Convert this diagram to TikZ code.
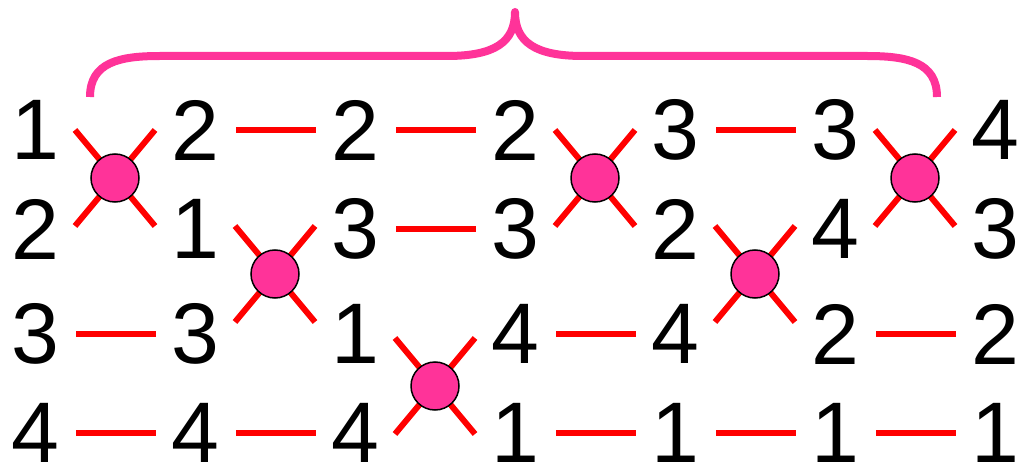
\documentclass[tikz,border=0pt]{standalone}
\usepackage{fontspec}
\setmainfont{Liberation Sans}
\usepackage{xcolor}
\usetikzlibrary{calc}
\definecolor{wirered}{HTML}{FF0000}
\definecolor{hotpink}{HTML}{FF3399}

\begin{document}
\begin{tikzpicture}[x=1pt,y=-1pt,
  num/.style={inner sep=0pt,font=\fontsize{86}{86}\selectfont},
  wire/.style={draw=wirered,line width=6pt},
  link/.style={wire,shorten <=41pt,shorten >=39pt},
  swap/.style={circle,draw=black,line width=1.5pt,fill=hotpink,
               minimum size=48pt,inner sep=0pt},
  brace/.style={draw=hotpink,line width=8pt,line join=round}
]
\useasboundingbox (0,0) rectangle (1028,473);
% columns of numbers
\foreach \c/\a/\b/\d/\e in {1/1/2/3/4,2/2/1/3/4,3/2/3/1/4,4/2/3/4/1,
                            5/3/2/4/1,6/3/4/2/1,7/4/3/2/1}{
  \node[num] (\c-1) at ({35+160*(\c-1)},130) {\a};
  \node[num] (\c-2) at ({35+160*(\c-1)},229) {\b};
  \node[num] (\c-3) at ({35+160*(\c-1)},334) {\d};
  \node[num] (\c-4) at ({35+160*(\c-1)},433) {\e};
}
% straight links
\draw[link] (1-3.center) -- (2-3.center);
\draw[link] (1-4.center) -- (2-4.center);
\draw[link] (2-1.center) -- (3-1.center);
\draw[link] (2-4.center) -- (3-4.center);
\draw[link] (3-1.center) -- (4-1.center);
\draw[link] (3-2.center) -- (4-2.center);
\draw[link] (4-3.center) -- (5-3.center);
\draw[link] (4-4.center) -- (5-4.center);
\draw[link] (5-1.center) -- (6-1.center);
\draw[link] (5-4.center) -- (6-4.center);
\draw[link] (6-3.center) -- (7-3.center);
\draw[link] (6-4.center) -- (7-4.center);
% swaps
\coordinate (x1) at ($(1-1)!0.5!(2-1)+(0,48)$);
\coordinate (x2) at ($(2-2)!0.5!(3-2)+(0,45)$);
\coordinate (x3) at ($(3-3)!0.5!(4-3)+(0,52)$);
\coordinate (x4) at ($(4-1)!0.5!(5-1)+(0,48)$);
\coordinate (x5) at ($(5-2)!0.5!(6-2)+(0,45)$);
\coordinate (x6) at ($(6-1)!0.5!(7-1)+(0,48)$);
\foreach \s in {1,...,6}{
  \draw[wire] ([shift={(-40,-48)}]x\s) -- ([shift={(40,48)}]x\s);
  \draw[wire] ([shift={(40,-48)}]x\s) -- ([shift={(-40,48)}]x\s);
  \node[swap] (o\s) at (x\s) {};
}
% brace
\draw[brace] (90,97) .. controls (90,62) and (120,56) .. (160,56) -- (447,56)
  .. controls (495,56) and (515,42) .. (515,12)
  .. controls (515,42) and (535,56) .. (583,56) -- (867,56)
  .. controls (907,56) and (937,62) .. (937,97);
\end{tikzpicture}
\end{document}
